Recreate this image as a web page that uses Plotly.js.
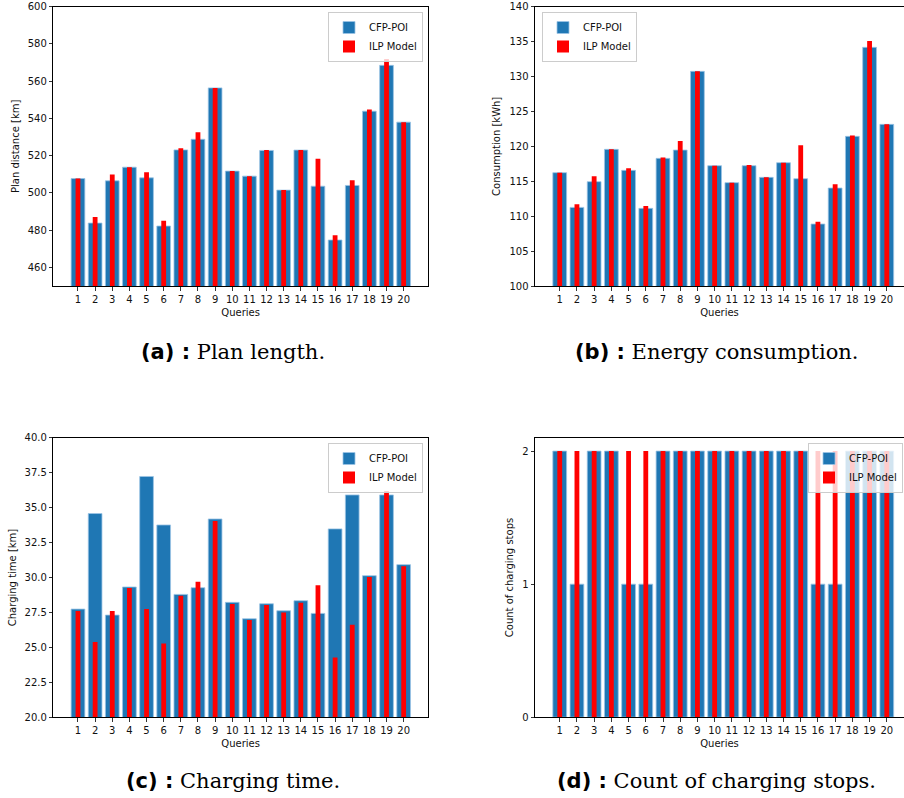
<!DOCTYPE html>
<html>
<head>
<meta charset="utf-8">
<script src="https://cdn.plot.ly/plotly-3.0.1.min.js"></script>
<style>
  html, body { margin: 0; padding: 0; background: #fff; }
  #chart { width: 904px; height: 798px; }
</style>
</head>
<body>
<div id="chart"></div>
<script>
// ---- Data ----
const queries = [1, 2, 3, 4, 5, 6, 7, 8, 9, 10, 11, 12, 13, 14, 15, 16, 17, 18, 19, 20];
const seriesNames = ['CFP-POI', 'ILP Model'];

// (a) Plan distance [km]
const planCFP = [507.7, 483.8, 506.5, 513.8, 508.1, 482.2, 523.1, 528.8, 556.4, 511.7,
                 509.0, 522.8, 501.5, 523.0, 503.6, 474.7, 504.0, 543.9, 568.5, 538.0];
const planILP = [507.7, 487.0, 509.9, 513.8, 511.1, 485.0, 524.0, 532.6, 556.4, 511.7,
                 509.0, 523.1, 501.5, 523.0, 518.3, 477.3, 506.8, 544.8, 571.9, 538.0];

// (b) Consumption [kWh]
const consCFP = [116.23, 111.26, 114.94, 119.57, 116.56, 111.12, 118.28, 119.47, 130.74, 117.23,
                 114.80, 117.23, 115.56, 117.66, 115.37, 108.88, 114.03, 121.43, 134.18, 123.15];
const consILP = [116.23, 111.69, 115.70, 119.57, 116.85, 111.46, 118.42, 120.76, 130.74, 117.23,
                 114.80, 117.33, 115.56, 117.66, 120.14, 109.21, 114.56, 121.57, 135.08, 123.15];

// (c) Charging time
const chargeCFP = [27.74, 34.58, 27.31, 29.32, 37.23, 33.76, 28.79, 29.27, 34.19, 28.22,
                   27.05, 28.12, 27.62, 28.34, 27.43, 33.48, 35.91, 30.13, 35.91, 30.92];
const chargeILP = [27.60, 25.38, 27.60, 29.25, 27.74, 25.28, 28.70, 29.70, 34.05, 28.10,
                   26.95, 28.03, 27.50, 28.20, 29.44, 24.28, 26.62, 30.04, 36.20, 30.80];

// (d) Count of charging stops
const stopsCFP = [2, 1, 2, 2, 1, 1, 2, 2, 2, 2, 2, 2, 2, 2, 2, 1, 1, 2, 2, 2];
const stopsILP = [2, 2, 2, 2, 2, 2, 2, 2, 2, 2, 2, 2, 2, 2, 2, 2, 2, 2, 2, 2];

const yTitles = ['Plan distance [km]', 'Consumption [kWh]', 'Charging time [km]', 'Count of charging stops'];
const captions = [
  ['(a) :', 'Plan length.'],
  ['(b) :', 'Energy consumption.'],
  ['(c) :', 'Charging time.'],
  ['(d) :', 'Count of charging stops.']
];

// ---- Styling ----
const BLUE = '#1f77b4';
const RED = '#ff0000';
const FONT = 'DejaVu Sans';
const W = 904, H = 798;

const panels = [
  { cfp: planCFP, ilp: planILP, xa: 'x', ya: 'y', legend: 'legend' },
  { cfp: consCFP, ilp: consILP, xa: 'x2', ya: 'y2', legend: 'legend2' },
  { cfp: chargeCFP, ilp: chargeILP, xa: 'x3', ya: 'y3', legend: 'legend3' },
  { cfp: stopsCFP, ilp: stopsILP, xa: 'x4', ya: 'y4', legend: 'legend4' }
];

const traces = [];
panels.forEach(p => {
  traces.push({
    type: 'bar', x: queries, y: p.cfp, name: seriesNames[0],
    xaxis: p.xa, yaxis: p.ya, legend: p.legend,
    width: 0.8,
    marker: { color: BLUE, line: { color: '#9cc4e4', width: 0.8 } },
    hoverinfo: 'x+y'
  });
  traces.push({
    type: 'bar', x: queries, y: p.ilp, name: seriesNames[1],
    xaxis: p.xa, yaxis: p.ya, legend: p.legend,
    width: 0.28,
    marker: { color: RED, line: { width: 0 } },
    hoverinfo: 'x+y'
  });
});

function xAxis(domain, range, anchor) {
  return {
    domain: domain, range: range, anchor: anchor,
    tickmode: 'array', tickvals: queries, ticktext: queries.map(String),
    ticks: 'outside', ticklen: 3.5, tickwidth: 0.8, tickcolor: '#000',
    showline: true, linecolor: '#000', linewidth: 1, mirror: true,
    showgrid: false, zeroline: false,
    tickfont: { family: FONT, size: 10, color: '#111' },
    title: { text: 'Queries', font: { family: FONT, size: 10, color: '#111' }, standoff: 5 }
  };
}
function yAxis(domain, range, anchor, dtick, fmt, title, mirror) {
  return {
    domain: domain, range: range, anchor: anchor,
    tickmode: 'linear', tick0: 0, dtick: dtick, tickformat: fmt,
    ticks: 'outside', ticklen: 3.5, tickwidth: 0.8, tickcolor: '#000',
    showline: true, linecolor: '#000', linewidth: 1, mirror: mirror,
    showgrid: false, zeroline: false,
    tickfont: { family: FONT, size: 10, color: '#111' },
    title: { text: title, font: { family: FONT, size: 10, color: '#111' }, standoff: 6 }
  };
}

const xL = [53.3 / W, 428 / W];
const xR = [535 / W, 1];
const yT = [(H - 286) / H, (H - 6.7) / H];
const yB = [(H - 717.2) / H, (H - 437.8) / H];
const rangeL = [-0.44, 21.42];
const rangeR = [-0.436, 21.0];

function legendAt(x, xanchor, yTopPx) {
  return {
    x: x, xanchor: xanchor, y: (H - yTopPx) / H, yanchor: 'top',
    xref: 'paper', yref: 'paper',
    bgcolor: 'rgba(255,255,255,0.8)', bordercolor: '#cccccc', borderwidth: 1,
    font: { family: FONT, size: 10, color: '#111' },
    tracegroupgap: 0, itemwidth: 30
  };
}

const annotations = captions.map((c, i) => {
  const cx = (i % 2 === 0) ? 232.5 : 716.5;
  const cy = (i < 2) ? 352 : 781;
  return {
    xref: 'paper', yref: 'paper', x: cx / W, y: (H - cy) / H,
    xanchor: 'center', yanchor: 'middle', showarrow: false,
    text: '<span style="font-family:DejaVu Sans;font-weight:bold">' + c[0] + '</span> ' + c[1],
    font: { family: 'DejaVu Serif', size: 21, color: '#000' }
  };
});

const layout = {
  width: W, height: H,
  margin: { l: 0, r: 0, t: 0, b: 0, pad: 0, autoexpand: false },
  paper_bgcolor: '#fff', plot_bgcolor: '#fff',
  barmode: 'overlay',
  showlegend: true,
  font: { family: FONT, size: 10, color: '#111' },
  xaxis: xAxis(xL, rangeL, 'y'),
  yaxis: yAxis(yT, [450, 600], 'x', 20, 'd', yTitles[0], true),
  xaxis2: xAxis(xR, rangeR, 'y2'),
  yaxis2: yAxis(yT, [100, 140], 'x2', 5, 'd', yTitles[1], false),
  xaxis3: xAxis(xL, rangeL, 'y3'),
  yaxis3: yAxis(yB, [20, 40], 'x3', 2.5, '.1f', yTitles[2], true),
  xaxis4: xAxis(xR, rangeR, 'y4'),
  yaxis4: yAxis(yB, [0, 2.1], 'x4', 1, 'd', yTitles[3], false),
  legend: legendAt(423 / W, 'right', 12),
  legend2: legendAt(542 / W, 'left', 12),
  legend3: legendAt(423 / W, 'right', 443),
  legend4: legendAt(808 / W, 'left', 443),
  annotations: annotations
};

Plotly.newPlot('chart', traces, layout, { displayModeBar: false, staticPlot: true });
</script>
</body>
</html>
